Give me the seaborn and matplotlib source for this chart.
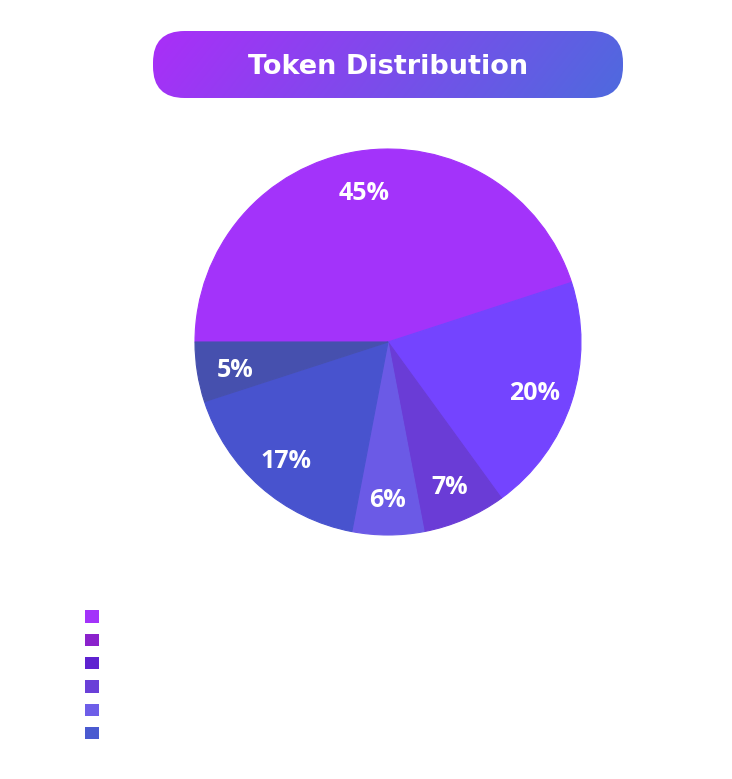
import numpy as np
import matplotlib.pyplot as plt
import matplotlib.transforms as mtransforms
import seaborn as sns
from matplotlib.patches import FancyBboxPatch, Patch

# --- data ---
shares = [45, 20, 7, 6, 17, 5]
slice_colors = ['#A333FA', '#7444FF', '#6A3CD6', '#6B5AE6', '#4853CE', '#4650AE']
legend_colors = ['#A333FA', '#8B22CC', '#5E22D0', '#6A40D8', '#6E5EE8', '#4A5AD0']
title = "Token Distribution"

sns.set_theme(style="white")
plt.rcParams['font.family'] = ['Open Sans', 'DejaVu Sans']

W, H = 732, 779
fig = plt.figure(figsize=(W / 100, H / 100), dpi=100)
fig.patch.set_facecolor('white')

# --- gradient title pill ---
px0, py0, pw, ph = 153, 31, 470, 67
tax = fig.add_axes([px0 / W, 1 - (py0 + ph) / H, pw / W, ph / H])
tax.set_xlim(0, pw)
tax.set_ylim(0, ph)
tax.axis('off')
c0 = np.array([0xAA, 0x2E, 0xF8]) / 255
c1 = np.array([0x4E, 0x6A, 0xDE]) / 255
xx, yy = np.meshgrid(np.linspace(0, 1, 300), np.linspace(0, 1, 60))
t = np.clip(xx * 0.9 + (1 - yy) * 0.1, 0, 1)[..., None]
grad = c0 * (1 - t) + c1 * t
im = tax.imshow(grad, extent=[0, pw, 0, ph], origin='lower', aspect='auto')
pill = FancyBboxPatch((0, 0), pw, ph, boxstyle=f"round,pad=0,rounding_size={ph / 2 - 2}",
                      transform=tax.transData, facecolor='none', edgecolor='none')
tax.add_patch(pill)
im.set_clip_path(pill)
tax.text(pw / 2, ph / 2 + 1, title, ha='center', va='center_baseline', color='white',
         fontsize=19.5, fontweight='bold', family=['DejaVu Sans'])

# --- pie ---
cx, cy, r = 388, 342, 193
ax = fig.add_axes([(cx - r) / W, 1 - (cy + r) / H, 2 * r / W, 2 * r / H])
wedges, texts, autotexts = ax.pie(
    shares, colors=slice_colors, startangle=180, counterclock=False,
    autopct='%d%%', pctdistance=0.8, radius=1,
    wedgeprops=dict(linewidth=0.8),
    textprops=dict(color='white', fontsize=18, fontweight='bold'))
for w in wedges:
    w.set_edgecolor(w.get_facecolor())
nudge = mtransforms.ScaledTranslation(0, -4 / 100, fig.dpi_scale_trans)
for at in autotexts:
    at.set_transform(at.get_transform() + nudge)
ax.set_xlim(-1, 1)
ax.set_ylim(-1, 1)
ax.set_aspect('equal')
ax.axis('off')

# --- legend (labels blank in the original) ---
handles = [Patch(facecolor=c, edgecolor='none') for c in legend_colors]
fig.legend(handles, [' '] * len(handles), loc='upper left',
           bbox_to_anchor=(81 / W, 1 - 606 / H), frameon=False,
           handlelength=1.0, handleheight=1.0, fontsize=10,
           labelspacing=0.6, borderpad=0.3, borderaxespad=0)

fig.savefig('out.png', dpi=100, facecolor='white')
